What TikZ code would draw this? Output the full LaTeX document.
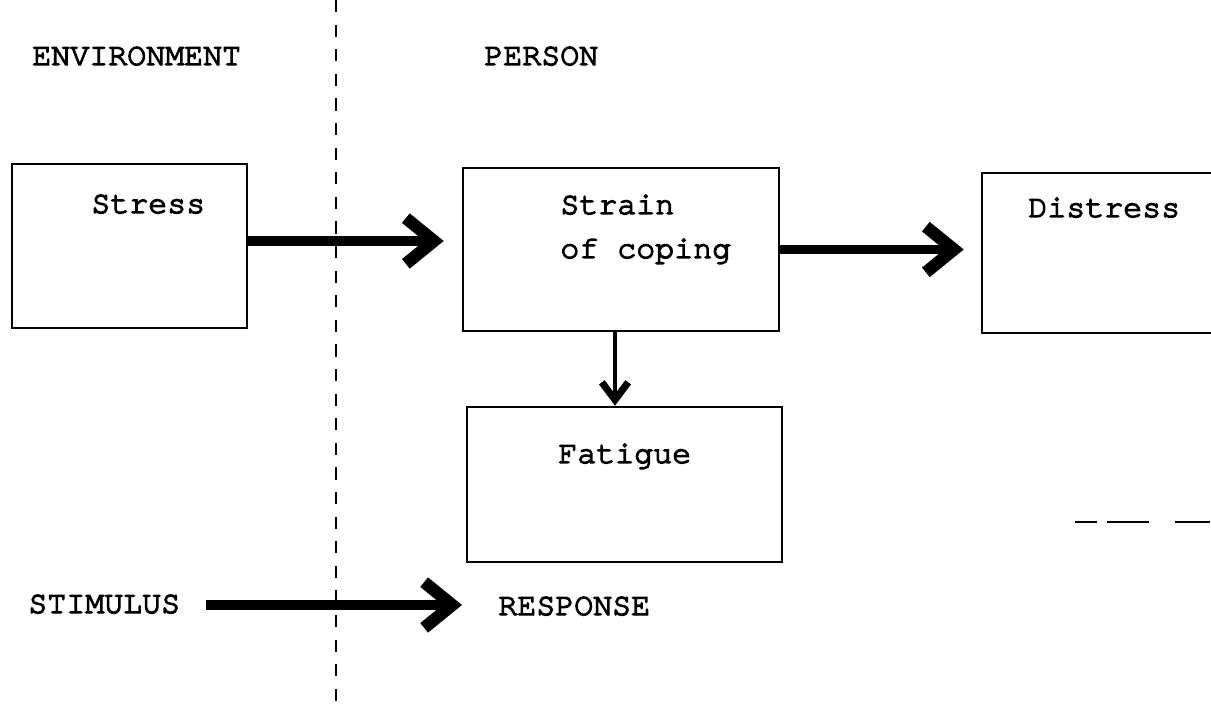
\documentclass[tikz,border=0pt]{standalone}
\usepackage{fontspec}
\newfontfamily\typed{texgyrecursor-regular.otf}[FakeBold=4]
\usepackage{tikz}
\usetikzlibrary{arrows.meta}

\begin{document}
\begin{tikzpicture}[x=0.02cm, y=-0.02cm,
	box/.style={shape=rectangle, draw, line width=1.5pt, inner sep=0pt},
	word/.style={anchor=base west, inner sep=0pt, font=\typed\fontsize{18}{18}\selectfont},
	fat/.style={line width=5.5pt, -{Straight Barb[length=16pt, width=26pt, line width'=7pt]}},
	thin/.style={line width=2.6pt, -{Straight Barb[length=10pt, width=15pt, line width'=4pt]}},
	divide/.style={line width=1.5pt, dash pattern=on 7pt off 7pt}]
	\useasboundingbox (0,0) rectangle (1211,709);

	\node (stress) at (129.5,246) [box, minimum width=4.7cm, minimum height=3.28cm] {};
	\node (strain) at (621,249.5) [box, minimum width=6.32cm, minimum height=3.26cm] {};
	\node (distress) at (1106,253) [box, minimum width=4.96cm, minimum height=3.2cm] {};
	\node (fatigue) at (624.5,484.5) [box, minimum width=6.3cm, minimum height=3.1cm] {};

	\node (environment) at (32,65) [word] {ENVIRONMENT};
	\node (person) at (484,65) [word] {PERSON};
	\node (stresstext) at (91,213) [word] {Stress};
	\node (straintext) at (560,214) [word] {Strain};
	\node (copingtext) at (560,258) [word] {of coping};
	\node (distresstext) at (1028,217) [word] {Distress};
	\node (fatiguetext) at (558,463) [word] {Fatigue};
	\node (stimulus) at (28,613) [word] {STIMULUS};
	\node (response) at (498,615) [word] {RESPONSE};

	% border between environment and person
	\coordinate (top) at (336,0);
	\coordinate (bottom) at (336,709);
	\draw [divide] (top) -- (bottom);

	\coordinate (mark1) at (1075,522);
	\coordinate (mark2) at (1211,522);
	\draw [line width=0.8pt, dash pattern=on 12.5pt off 5.7pt on 23.9pt off 14.8pt on 20pt] (mark1) -- (mark2);

	\draw [fat, shorten >=0.36cm] ([yshift=0.1cm]stress.east) -- ([yshift=0.1cm]stress.east -| strain.west);
	\draw [fat, shorten >=0.34cm] (strain.east) -- (strain.east -| distress.west);
	\draw [thin] ([xshift=-0.12cm]strain.south) -- ([xshift=-0.12cm]strain.south |- fatigue.north);
	\draw [fat, shorten <=0.5cm, shorten >=0.72cm] ([yshift=0.16cm]stimulus.base east) -- ([yshift=0.16cm]stimulus.base east -| response.west);
\end{tikzpicture}
\end{document}
